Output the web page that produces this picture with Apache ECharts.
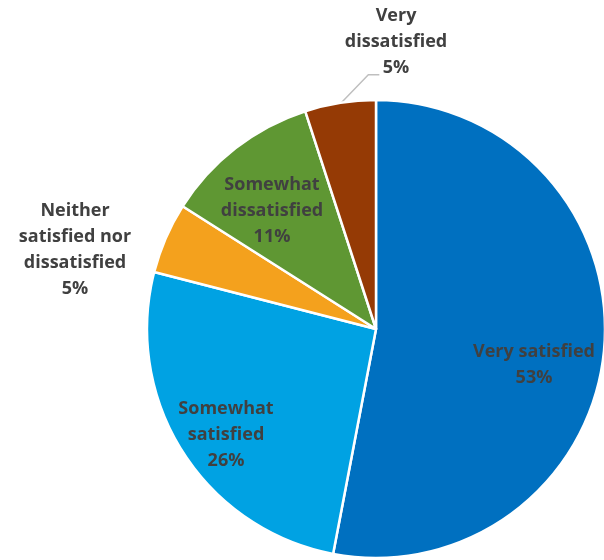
<!DOCTYPE html>
<html>
<head>
<meta charset="utf-8">
<script src="https://cdn.jsdelivr.net/npm/echarts@6/dist/echarts.min.js"></script>
<style>
  html, body { margin: 0; padding: 0; background: #fff; }
  #chart { width: 604px; height: 560px; }
</style>
</head>
<body>
<div id="chart"></div>
<script>
// satisfaction categories, clockwise from 12 o'clock
var categories = ['Very satisfied', 'Somewhat satisfied', 'Neither satisfied nor dissatisfied', 'Somewhat dissatisfied', 'Very dissatisfied']
var labelNames = ['Very satisfied', 'Somewhat\nsatisfied', 'Neither\nsatisfied nor\ndissatisfied', 'Somewhat\ndissatisfied', 'Very\ndissatisfied']
var percents = [53, 26, 5, 11, 5]
var colors = ['#0070C0', '#00A2E3', '#F4A11D', '#5F9733', '#953A05']

// where each label block is centred (px)
var labelPos = [[534, 365], [226, 435], [75, 250], [272, 211], [396, 42]]

var pieCenter = [376, 329]
var pieRadius = 229

var myChart = echarts.init(document.getElementById('chart'))

var total = percents.reduce(function (a, b) { return a + b }, 0)

// leader line for the small top slice: from the arc at mid angle, up, then across
function leaderLine(idx) {
  var before = percents.slice(0, idx).reduce(function (a, b) { return a + b }, 0)
  var mid = (before + percents[idx] / 2) / total * Math.PI * 2
  var x0 = pieCenter[0] + Math.sin(mid) * (pieRadius - 1)
  var y0 = pieCenter[1] - Math.cos(mid) * (pieRadius - 1)
  return [[x0, y0], [x0 + 28, y0 - 29], [x0 + 39, y0 - 29]]
}

var data = percents.map(function (v, i) {
  var item = {
    name: categories[i],
    value: v,
    itemStyle: { color: colors[i] }
  }
  if (i === 2) {
    item.label = { position: 'outside' }
    item.labelLine = { show: false }
  }
  if (i === 4) {
    item.label = { position: 'outside' }
    item.labelLine = { show: true, smooth: false, lineStyle: { color: '#BFBFBF', width: 1.5 } }
  }
  return item
})

var option = {
  animation: false,
  series: [
    {
      type: 'pie',
      center: pieCenter,
      radius: pieRadius,
      startAngle: 90,
      clockwise: true,
      avoidLabelOverlap: false,
      itemStyle: {
        borderColor: '#fff',
        borderWidth: 2.5
      },
      label: {
        show: true,
        position: 'inside',
        color: '#404040',
        fontFamily: 'Open Sans',
        fontWeight: 'bold',
        fontSize: 18,
        lineHeight: 26,
        align: 'center',
        formatter: function (p) {
          return labelNames[p.dataIndex] + '\n' + p.value + '%'
        }
      },
      labelLayout: function (params) {
        var i = params.dataIndex
        var p = labelPos[i]
        var res = { x: p[0], y: p[1], align: 'center', verticalAlign: 'middle' }
        if (i === 4) res.labelLinePoints = leaderLine(i)
        return res
      },
      data: data
    }
  ]
}

myChart.setOption(option)
</script>
</body>
</html>
